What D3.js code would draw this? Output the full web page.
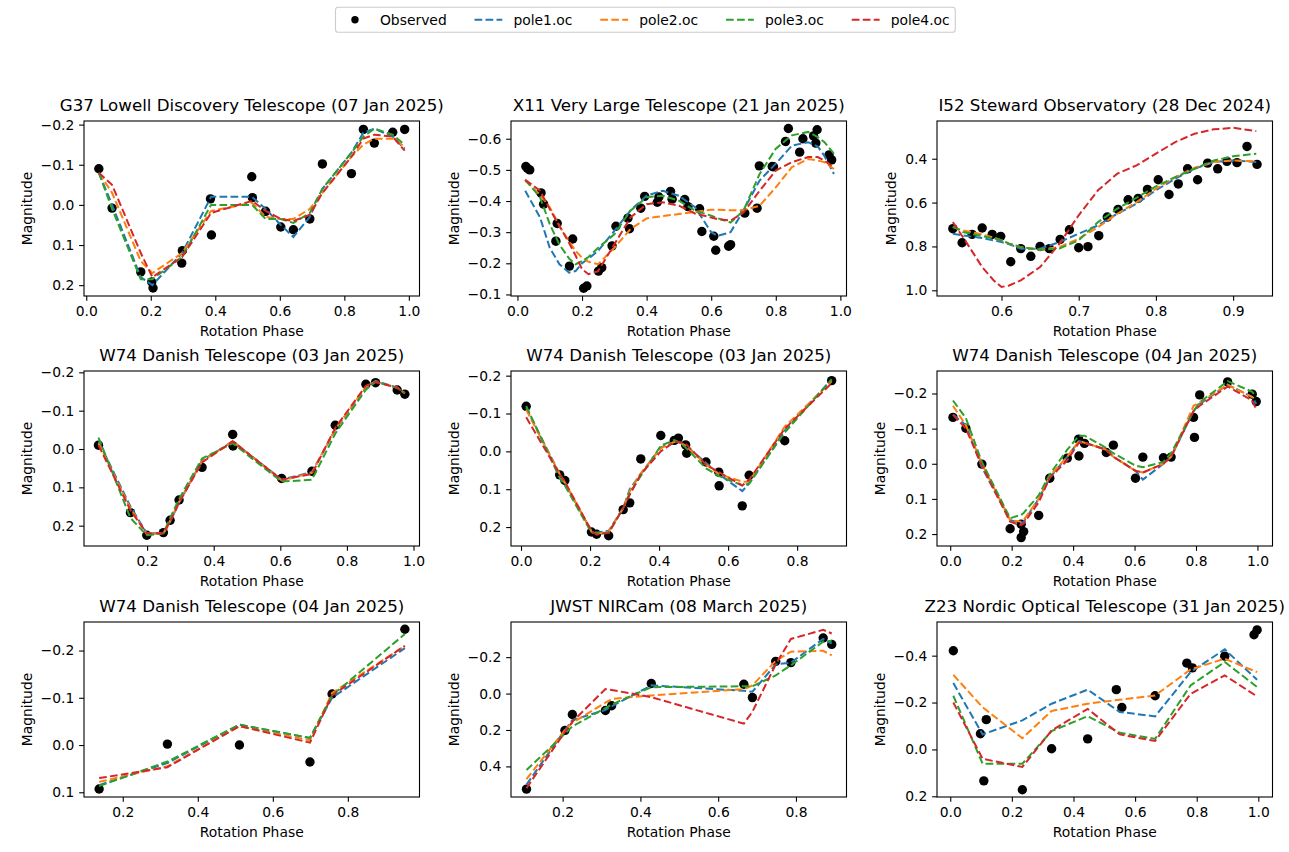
<!DOCTYPE html>
<html>
<head>
<meta charset="utf-8">
<script src="https://cdn.jsdelivr.net/npm/d3@7"></script>
<style>
  html, body { margin: 0; padding: 0; background: #fff; }
  svg { display: block; font-family: "DejaVu Sans", sans-serif; }
</style>
</head>
<body>
<svg id="chart" width="1289" height="852"></svg>
<script>
// ---------------- DATA ----------------
const titles = [
  "G37 Lowell Discovery Telescope (07 Jan 2025)",
  "X11 Very Large Telescope (21 Jan 2025)",
  "I52 Steward Observatory (28 Dec 2024)",
  "W74 Danish Telescope (03 Jan 2025)",
  "W74 Danish Telescope (03 Jan 2025)",
  "W74 Danish Telescope (04 Jan 2025)",
  "W74 Danish Telescope (04 Jan 2025)",
  "JWST NIRCam (08 March 2025)",
  "Z23 Nordic Optical Telescope (31 Jan 2025)"
];
const seriesNames = ["pole1.oc", "pole2.oc", "pole3.oc", "pole4.oc"];

// axis limits [left, right] and [top, bottom] (magnitude axis inverted)
const xLimits = [[-0.007,1.033],[-0.020,1.019],[0.5165,0.951],[0.0105,1.018],[-0.029,0.943],[-0.043,1.049],[0.0967,0.991],[0.0672,0.930],[-0.043,1.046]];
const yLimits = [[-0.209,0.227],[-0.657,-0.095],[0.228,1.026],[-0.2035,0.253],[-0.2123,0.250],[-0.264,0.234],[-0.2604,0.110],[-0.393,0.568],[-0.5436,0.203]];
const xTicks = [
  [0.0,0.2,0.4,0.6,0.8,1.0],[0.0,0.2,0.4,0.6,0.8,1.0],[0.6,0.7,0.8,0.9],
  [0.2,0.4,0.6,0.8,1.0],[0.0,0.2,0.4,0.6,0.8],[0.0,0.2,0.4,0.6,0.8,1.0],
  [0.2,0.4,0.6,0.8],[0.2,0.4,0.6,0.8],[0.0,0.2,0.4,0.6,0.8,1.0]
];
const yTicks = [
  [-0.2,-0.1,0.0,0.1,0.2],[-0.6,-0.5,-0.4,-0.3,-0.2,-0.1],[0.4,0.6,0.8,1.0],
  [-0.2,-0.1,0.0,0.1,0.2],[-0.2,-0.1,0.0,0.1,0.2],[-0.2,-0.1,0.0,0.1,0.2],
  [-0.2,-0.1,0.0,0.1],[-0.2,0.0,0.2,0.4],[-0.4,-0.2,0.0,0.2]
];

// Panel 1: G37
const g37Phase = [0.039,0.080,0.169,0.203,0.207,0.296,0.298,0.385,0.388,0.513,0.515,0.556,0.603,0.642,0.693,0.732,0.822,0.859,0.893,0.950,0.987];
const g37Obs   = [-0.090,0.008,0.167,0.192,0.207,0.145,0.114,-0.015,0.075,-0.070,-0.018,0.016,0.055,0.062,0.035,-0.102,-0.078,-0.188,-0.154,-0.181,-0.188];
const g37ModelPhase = [0.039,0.080,0.169,0.205,0.297,0.387,0.514,0.556,0.603,0.642,0.693,0.732,0.822,0.859,0.893,0.950,0.987];
const g37Pole1 = [-0.080,0.000,0.180,0.200,0.120,-0.020,-0.020,0.010,0.050,0.080,0.030,-0.040,-0.130,-0.180,-0.190,-0.170,-0.140];
const g37Pole2 = [-0.080,-0.030,0.140,0.170,0.120,0.015,-0.005,0.030,0.035,0.035,0.010,-0.030,-0.120,-0.150,-0.165,-0.165,-0.145];
const g37Pole3 = [-0.080,0.010,0.185,0.185,0.130,0.000,0.000,0.035,0.035,0.045,0.020,-0.040,-0.130,-0.170,-0.190,-0.175,-0.150];
const g37Pole4 = [-0.080,-0.050,0.120,0.180,0.130,0.020,-0.010,0.015,0.035,0.040,0.025,-0.030,-0.120,-0.165,-0.175,-0.170,-0.135];

// Panel 2: X11
const x11Phase = [0.026,0.031,0.038,0.073,0.081,0.119,0.123,0.161,0.171,0.205,0.215,0.251,0.261,0.293,0.305,0.342,0.347,0.382,0.394,0.433,0.438,0.474,0.479,0.518,0.528,0.564,0.571,0.608,0.614,0.654,0.660,0.704,0.742,0.749,0.789,0.793,0.830,0.839,0.874,0.884,0.917,0.924,0.928,0.965,0.973];
const x11Obs   = [-0.511,-0.505,-0.500,-0.426,-0.390,-0.271,-0.328,-0.191,-0.278,-0.120,-0.127,-0.175,-0.186,-0.256,-0.319,-0.345,-0.311,-0.377,-0.415,-0.396,-0.413,-0.431,-0.406,-0.405,-0.382,-0.375,-0.302,-0.287,-0.242,-0.255,-0.260,-0.361,-0.377,-0.513,-0.511,-0.510,-0.591,-0.633,-0.557,-0.600,-0.609,-0.586,-0.629,-0.548,-0.532];
const x11ModelPhase = [0.024,0.07,0.10,0.13,0.16,0.18,0.20,0.22,0.25,0.30,0.35,0.40,0.45,0.50,0.55,0.60,0.62,0.66,0.70,0.75,0.80,0.85,0.90,0.93,0.95,0.98];
const x11Pole1 = [-0.433,-0.347,-0.250,-0.197,-0.170,-0.175,-0.200,-0.215,-0.240,-0.304,-0.370,-0.417,-0.433,-0.417,-0.380,-0.300,-0.288,-0.300,-0.370,-0.466,-0.520,-0.578,-0.589,-0.575,-0.546,-0.487];
const x11Pole2 = [-0.466,-0.420,-0.380,-0.320,-0.270,-0.240,-0.218,-0.205,-0.197,-0.250,-0.310,-0.344,-0.352,-0.358,-0.365,-0.372,-0.372,-0.370,-0.371,-0.385,-0.444,-0.509,-0.535,-0.530,-0.525,-0.503];
const x11Pole3 = [-0.468,-0.412,-0.326,-0.260,-0.215,-0.197,-0.207,-0.220,-0.250,-0.293,-0.369,-0.412,-0.417,-0.401,-0.369,-0.353,-0.345,-0.331,-0.369,-0.487,-0.568,-0.611,-0.622,-0.605,-0.590,-0.552];
const x11Pole4 = [-0.468,-0.433,-0.374,-0.320,-0.265,-0.225,-0.181,-0.165,-0.175,-0.261,-0.347,-0.390,-0.396,-0.385,-0.360,-0.347,-0.342,-0.337,-0.363,-0.433,-0.498,-0.525,-0.541,-0.541,-0.530,-0.509];

// Panel 3: I52
const i52Phase = [0.537,0.549,0.562,0.575,0.588,0.599,0.612,0.625,0.638,0.650,0.662,0.676,0.688,0.700,0.712,0.726,0.737,0.751,0.764,0.777,0.789,0.803,0.817,0.829,0.841,0.854,0.867,0.880,0.892,0.905,0.918,0.931];
const i52Obs   = [0.719,0.783,0.745,0.716,0.745,0.754,0.870,0.810,0.845,0.800,0.810,0.768,0.724,0.806,0.801,0.751,0.666,0.631,0.587,0.581,0.540,0.496,0.563,0.515,0.446,0.496,0.420,0.446,0.412,0.418,0.344,0.426];
const i52ModelPhase = [0.537,0.55,0.575,0.59,0.60,0.61,0.625,0.65,0.675,0.70,0.725,0.75,0.775,0.80,0.825,0.85,0.875,0.90,0.93];
const i52Pole1 = [0.742,0.750,0.762,0.772,0.780,0.790,0.810,0.810,0.780,0.742,0.704,0.651,0.605,0.544,0.491,0.446,0.415,0.408,0.415];
const i52Pole2 = [0.712,0.727,0.745,0.760,0.772,0.787,0.803,0.815,0.803,0.765,0.712,0.651,0.598,0.537,0.484,0.441,0.415,0.408,0.412];
const i52Pole3 = [0.709,0.734,0.753,0.763,0.772,0.787,0.803,0.815,0.810,0.772,0.689,0.628,0.578,0.526,0.484,0.446,0.408,0.389,0.377];
const i52Pole4 = [0.689,0.757,0.894,0.955,0.985,0.978,0.955,0.894,0.788,0.658,0.544,0.468,0.430,0.377,0.324,0.286,0.266,0.259,0.274];

// Panel 4: W74 (03 Jan 2025, set A)
const w74aPhase = [0.054,0.150,0.199,0.249,0.269,0.296,0.365,0.457,0.458,0.604,0.695,0.765,0.857,0.886,0.951,0.974];
const w74aObs   = [-0.010,0.166,0.225,0.218,0.186,0.133,0.048,-0.038,-0.008,0.077,0.058,-0.062,-0.169,-0.173,-0.154,-0.143];
const w74aModelPhase = [0.054,0.150,0.199,0.249,0.269,0.296,0.365,0.457,0.604,0.695,0.765,0.857,0.886,0.951,0.974];
const w74aPole1 = [-0.020,0.150,0.220,0.220,0.190,0.140,0.030,-0.020,0.080,0.060,-0.050,-0.160,-0.178,-0.160,-0.145];
const w74aPole2 = [-0.015,0.155,0.222,0.220,0.188,0.138,0.032,-0.020,0.082,0.062,-0.052,-0.162,-0.176,-0.160,-0.146];
const w74aPole3 = [-0.030,0.180,0.225,0.220,0.180,0.130,0.025,-0.015,0.085,0.080,-0.040,-0.155,-0.175,-0.160,-0.145];
const w74aPole4 = [-0.010,0.160,0.220,0.220,0.190,0.140,0.035,-0.020,0.080,0.065,-0.055,-0.165,-0.175,-0.160,-0.145];

// Panel 5: W74 (03 Jan 2025, set B)
const w74bPhase = [0.015,0.112,0.127,0.204,0.219,0.254,0.296,0.315,0.347,0.405,0.444,0.456,0.477,0.480,0.536,0.573,0.574,0.641,0.661,0.764,0.900];
const w74bObs   = [-0.119,0.062,0.077,0.213,0.219,0.223,0.154,0.136,0.020,-0.042,-0.029,-0.035,-0.017,0.005,0.028,0.055,0.091,0.144,0.063,-0.028,-0.187];
const w74bModelPhase = [0.015,0.112,0.127,0.204,0.219,0.254,0.296,0.315,0.347,0.405,0.444,0.456,0.477,0.536,0.573,0.641,0.661,0.764,0.900];
const w74bPole1 = [-0.115,0.060,0.085,0.210,0.215,0.210,0.150,0.100,0.060,-0.010,-0.025,-0.025,-0.015,0.030,0.060,0.105,0.085,-0.055,-0.190];
const w74bPole2 = [-0.110,0.060,0.082,0.212,0.218,0.212,0.150,0.105,0.058,-0.008,-0.025,-0.025,-0.015,0.035,0.060,0.080,0.080,-0.065,-0.185];
const w74bPole3 = [-0.120,0.070,0.090,0.215,0.215,0.215,0.150,0.110,0.065,-0.015,-0.030,-0.025,-0.010,0.045,0.065,0.090,0.085,-0.050,-0.190];
const w74bPole4 = [-0.090,0.060,0.080,0.210,0.220,0.215,0.150,0.115,0.060,0.000,-0.025,-0.025,-0.020,0.035,0.055,0.090,0.075,-0.060,-0.180];

// Panel 6: W74 (04 Jan 2025, set A)
const w74cPhase = [0.009,0.051,0.103,0.195,0.231,0.231,0.239,0.288,0.324,0.381,0.418,0.419,0.437,0.508,0.531,0.603,0.627,0.694,0.719,0.792,0.795,0.812,0.903,0.983,0.996];
const w74cObs   = [-0.132,-0.101,0.001,0.185,0.172,0.210,0.193,0.147,0.041,-0.016,-0.070,-0.022,-0.058,-0.032,-0.053,0.041,-0.019,-0.017,-0.019,-0.132,-0.075,-0.196,-0.233,-0.198,-0.177];
const w74cModelPhase = [0.009,0.051,0.103,0.195,0.231,0.239,0.288,0.324,0.381,0.419,0.437,0.508,0.531,0.603,0.627,0.694,0.719,0.792,0.812,0.903,0.983,0.996];
const w74cPole1 = [-0.140,-0.110,0.010,0.160,0.170,0.165,0.100,0.040,-0.020,-0.065,-0.060,-0.040,-0.020,0.020,0.045,0.000,-0.020,-0.150,-0.170,-0.225,-0.190,-0.170];
const w74cPole2 = [-0.165,-0.110,0.000,0.160,0.165,0.160,0.100,0.035,-0.020,-0.065,-0.060,-0.040,-0.020,0.020,0.025,0.000,-0.020,-0.165,-0.175,-0.225,-0.190,-0.180];
const w74cPole3 = [-0.180,-0.130,-0.005,0.155,0.145,0.140,0.090,0.030,-0.040,-0.080,-0.080,-0.045,-0.030,0.005,0.010,-0.005,-0.030,-0.150,-0.175,-0.235,-0.205,-0.190];
const w74cPole4 = [-0.140,-0.100,0.005,0.165,0.175,0.170,0.110,0.040,-0.010,-0.060,-0.060,-0.040,-0.020,0.020,0.025,0.000,-0.020,-0.150,-0.165,-0.220,-0.180,-0.155];

// Panel 7: W74 (04 Jan 2025, set B)
const w74dPhase = [0.137,0.319,0.511,0.699,0.758,0.952];
const w74dObs   = [0.093,-0.002,0.000,0.036,-0.108,-0.245];
const w74dModelPhase = [0.137,0.319,0.511,0.699,0.758,0.952];
const w74dPole1 = [0.085,0.038,-0.043,-0.015,-0.100,-0.205];
const w74dPole2 = [0.078,0.045,-0.040,-0.010,-0.110,-0.210];
const w74dPole3 = [0.087,0.035,-0.043,-0.015,-0.105,-0.235];
const w74dPole4 = [0.070,0.047,-0.040,-0.005,-0.105,-0.210];

// Panel 8: JWST
const jwstPhase = [0.107,0.206,0.225,0.310,0.326,0.428,0.666,0.688,0.748,0.787,0.870,0.892];
const jwstObs   = [0.525,0.202,0.115,0.093,0.067,-0.055,-0.051,0.022,-0.177,-0.170,-0.305,-0.270];
const jwstModelPhase = [0.107,0.206,0.225,0.310,0.326,0.428,0.666,0.688,0.748,0.787,0.870,0.892];
const jwstPole1 = [0.500,0.200,0.146,0.090,0.070,-0.045,-0.015,-0.010,-0.160,-0.170,-0.300,-0.274];
const jwstPole2 = [0.470,0.200,0.160,0.050,0.030,0.010,-0.024,-0.045,-0.180,-0.230,-0.235,-0.210];
const jwstPole3 = [0.420,0.220,0.180,0.080,0.060,-0.035,-0.040,-0.040,-0.100,-0.155,-0.285,-0.290];
const jwstPole4 = [0.520,0.210,0.155,-0.025,-0.020,0.020,0.165,0.100,-0.160,-0.300,-0.350,-0.330];

// Panel 9: Z23
const z23Phase = [0.010,0.098,0.109,0.117,0.234,0.329,0.446,0.539,0.557,0.665,0.768,0.786,0.891,0.986,0.996];
const z23Obs   = [-0.421,-0.067,0.134,-0.127,0.172,-0.003,-0.045,-0.255,-0.179,-0.229,-0.368,-0.348,-0.398,-0.489,-0.510];
const z23ModelPhase = [0.010,0.105,0.234,0.329,0.446,0.550,0.665,0.780,0.891,0.996];
const z23Pole1 = [-0.283,-0.064,-0.124,-0.195,-0.255,-0.160,-0.141,-0.330,-0.427,-0.297];
const z23Pole2 = [-0.318,-0.180,-0.048,-0.164,-0.195,-0.212,-0.230,-0.341,-0.387,-0.330];
const z23Pole3 = [-0.229,0.061,0.061,-0.078,-0.142,-0.071,-0.045,-0.273,-0.373,-0.266];
const z23Pole4 = [-0.200,0.040,0.075,-0.081,-0.173,-0.064,-0.036,-0.237,-0.316,-0.226];

// ---------------- ASSEMBLY ----------------
const panels = [
  [g37Phase, g37Obs, g37ModelPhase, [g37Pole1, g37Pole2, g37Pole3, g37Pole4]],
  [x11Phase, x11Obs, x11ModelPhase, [x11Pole1, x11Pole2, x11Pole3, x11Pole4]],
  [i52Phase, i52Obs, i52ModelPhase, [i52Pole1, i52Pole2, i52Pole3, i52Pole4]],
  [w74aPhase, w74aObs, w74aModelPhase, [w74aPole1, w74aPole2, w74aPole3, w74aPole4]],
  [w74bPhase, w74bObs, w74bModelPhase, [w74bPole1, w74bPole2, w74bPole3, w74bPole4]],
  [w74cPhase, w74cObs, w74cModelPhase, [w74cPole1, w74cPole2, w74cPole3, w74cPole4]],
  [w74dPhase, w74dObs, w74dModelPhase, [w74dPole1, w74dPole2, w74dPole3, w74dPole4]],
  [jwstPhase, jwstObs, jwstModelPhase, [jwstPole1, jwstPole2, jwstPole3, jwstPole4]],
  [z23Phase, z23Obs, z23ModelPhase, [z23Pole1, z23Pole2, z23Pole3, z23Pole4]]
].map((p, i) => ({
  title: titles[i],
  obs: p[0].map((ph, j) => ({ phase: ph, mag: p[1][j] })),
  models: p[3].map(arr => arr.map((m, j) => ({ phase: p[2][j], mag: m })))
}));

// ---------------- STYLE / LAYOUT ----------------
const colors = ["#1f77b4", "#ff7f0e", "#2ca02c", "#d62728"];
const colLeft = [84, 511, 937];
const rowTop = [121, 371, 622];
const axW = 335.5, axH = 175;
const tickFont = 13.89, titleFont = 16.67;
const tickLen = 4.86;
const dash = "7.7,3.3";
const lineW = 2.0;

const svg = d3.select("#chart");
const fmt = d3.format(".1f");

panels.forEach((p, i) => {
  const left = colLeft[i % 3], top = rowTop[Math.floor(i / 3)];
  const x = d3.scaleLinear().domain(xLimits[i]).range([0, axW]);
  const y = d3.scaleLinear().domain(yLimits[i]).range([0, axH]);
  const g = svg.append("g").attr("transform", `translate(${left},${top})`);

  // observed
  g.append("g").selectAll("circle").data(p.obs).join("circle")
    .attr("cx", d => x(d.phase)).attr("cy", d => y(d.mag))
    .attr("r", 4.7).attr("fill", "#000");

  // models
  const line = d3.line().x(d => x(d.phase)).y(d => y(d.mag));
  p.models.forEach((m, k) => {
    g.append("path").datum(m).attr("d", line)
      .attr("fill", "none").attr("stroke", colors[k])
      .attr("stroke-width", lineW).attr("stroke-dasharray", dash);
  });

  // axes
  const xa = g.append("g").attr("transform", `translate(0,${axH})`)
    .call(d3.axisBottom(x).tickValues(xTicks[i]).tickFormat(fmt)
      .tickSize(tickLen).tickPadding(4.86).tickSizeOuter(0));
  const ya = g.append("g")
    .call(d3.axisLeft(y).tickValues(yTicks[i]).tickFormat(fmt)
      .tickSize(tickLen).tickPadding(4.86).tickSizeOuter(0));
  [xa, ya].forEach(a => {
    a.select(".domain").remove();
    a.selectAll("line").attr("stroke", "#000").attr("stroke-width", 1.1);
    a.selectAll("text").attr("font-size", tickFont).attr("fill", "#000")
      .attr("font-family", "DejaVu Sans");
  });

  g.append("rect").attr("x", 0).attr("y", 0).attr("width", axW).attr("height", axH)
    .attr("fill", "none").attr("stroke", "#000").attr("stroke-width", 1.1);

  // title
  g.append("text").attr("x", axW / 2).attr("y", -10.5)
    .attr("text-anchor", "middle").attr("font-size", titleFont).attr("fill", "#000")
    .text(p.title);

  // x label
  g.append("text").attr("x", axW / 2).attr("y", axH + 40)
    .attr("text-anchor", "middle").attr("font-size", tickFont).attr("fill", "#000")
    .text("Rotation Phase");

  // y label
  const bb = ya.node().getBBox();
  const lx = bb.x - 5.56 - 3.3;
  g.append("text").attr("transform", `translate(${lx},${axH / 2}) rotate(-90)`)
    .attr("text-anchor", "middle").attr("font-size", tickFont).attr("fill", "#000")
    .text("Magnitude");
});

// ---------------- LEGEND ----------------
const legX = 335.5, legY = 7.3, legH = 25;
const leg = svg.append("g");
const legBox = leg.append("rect").attr("x", legX).attr("y", legY).attr("height", legH)
  .attr("rx", 2.8).attr("fill", "#fff").attr("fill-opacity", 0.8)
  .attr("stroke", "#cccccc").attr("stroke-width", 1.1);
const entries = ["Observed"].concat(seriesNames);
let cx = legX + 5.56;
const cy = legY + legH / 2;
entries.forEach((name, k) => {
  if (k === 0) {
    leg.append("circle").attr("cx", cx + 13.9).attr("cy", cy).attr("r", 3.7).attr("fill", "#000");
  } else {
    leg.append("line").attr("x1", cx).attr("x2", cx + 27.8).attr("y1", cy).attr("y2", cy)
      .attr("stroke", colors[k - 1]).attr("stroke-width", lineW).attr("stroke-dasharray", dash);
  }
  const t = leg.append("text").attr("x", cx + 27.8 + 11.1).attr("y", cy + 5)
    .attr("font-size", tickFont).attr("fill", "#000").text(name);
  const w = t.node().getComputedTextLength();
  cx += 27.8 + 11.1 + w + 27.8;
});
legBox.attr("width", cx - 27.8 + 5.56 - legX);
</script>
</body>
</html>
